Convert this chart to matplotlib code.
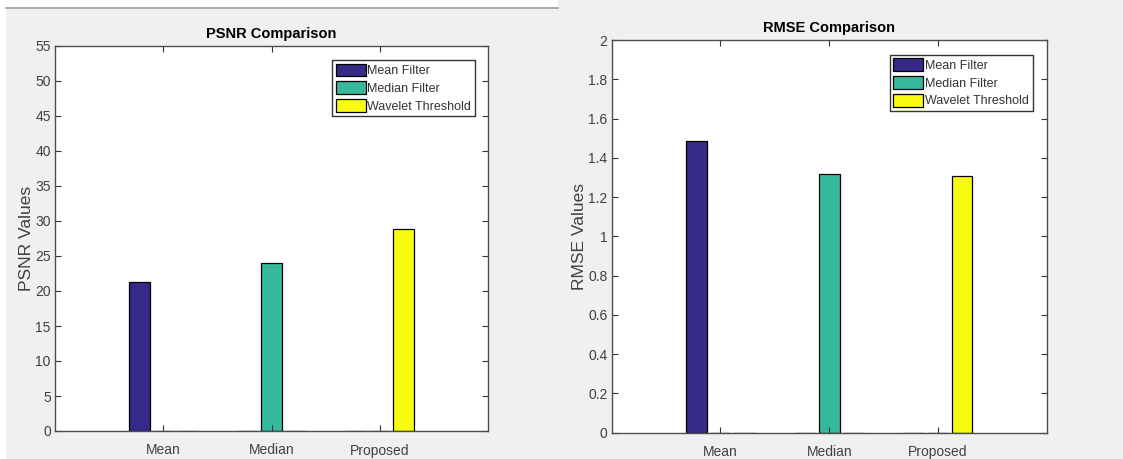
import matplotlib
matplotlib.use("Agg")
import matplotlib.pyplot as plt
import numpy as np
from matplotlib.patches import Rectangle
from matplotlib.lines import Line2D

plt.rcParams['font.family'] = ['Liberation Sans', 'DejaVu Sans']

# data
groups = ['Mean', 'Median', 'Proposed']
methods = ['Mean Filter', 'Median Filter', 'Wavelet Threshold']
colors = ['#352a87', '#36b89d', '#f9fb0e']
psnr_values = [21.25, 24.0, 28.8]
rmse_values = [1.485, 1.316, 1.305]
psnr_ticks = list(range(0, 56, 5))
rmse_ticks = [0, 0.2, 0.4, 0.6, 0.8, 1, 1.2, 1.4, 1.6, 1.8, 2]
rmse_ticklabels = ['0', '0.2', '0.4', '0.6', '0.8', '1', '1.2', '1.4', '1.6', '1.8', '2']

bg = '#f0f0f0'
axcol = '#333333'

fig = plt.figure(figsize=(11.23, 4.59), dpi=100, facecolor=bg)

# screenshot edge at top left
W, H = 1123, 459
fig.patches.append(Rectangle((0, 1 - 7 / H), 558 / W, 7 / H, transform=fig.transFigure,
                             facecolor='white', edgecolor='none', zorder=0))
fig.patches.append(Rectangle((0, 0), 6 / W, 1, transform=fig.transFigure,
                             facecolor='white', edgecolor='none', zorder=0))
fig.lines.append(Line2D([6 / W, 558 / W], [1 - 7.5 / H, 1 - 7.5 / H], transform=fig.transFigure,
                        color='#a0a0a0', lw=1.2))


def draw_panel(rect, values, ylim, yticks, yticklabels, title, ylabel, leg_anchor, title_pad):
    ax = fig.add_axes(rect)
    x = np.arange(1, len(groups) + 1)
    offset = 0.222
    width = 0.19
    # diagonal matrix, like MATLAB bar(diag(values))
    for j, (name, c) in enumerate(zip(methods, colors)):
        heights = [values[i] if i == j else 0 for i in range(len(groups))]
        ax.bar(x + (j - 1) * offset, heights, width, color=c, edgecolor='black',
               linewidth=0.9, label=name)
    ax.set_xlim(0, 4)
    ax.set_ylim(*ylim)
    ax.set_xticks(x)
    ax.set_xticklabels(groups)
    ax.set_yticks(yticks)
    ax.set_yticklabels(yticklabels)
    ax.tick_params(direction='in', length=4, width=0.8, colors=axcol, labelsize=10,
                   top=True, right=True, labelcolor='#404040')
    ax.tick_params(axis='x', pad=9)
    ax.tick_params(axis='y', pad=3)
    for s in ax.spines.values():
        s.set_color('#4d4d4d')
        s.set_linewidth(1.0)
    ax.set_title(title, fontsize=10.5, fontweight='bold', color='black', pad=title_pad)
    ax.set_ylabel(ylabel, fontsize=12.5, color='#404040', labelpad=1)
    leg = ax.legend(loc='upper right', bbox_to_anchor=leg_anchor, fontsize=9,
                    fancybox=False, framealpha=1, edgecolor='#333333',
                    handlelength=2.4, handleheight=1.2, handletextpad=0.15,
                    labelspacing=0.33, borderpad=0.3, borderaxespad=0)
    leg.get_frame().set_linewidth(1.0)
    for t in leg.get_texts():
        t.set_color('#333333')
    return ax


draw_panel([55 / W, 1 - 431 / H, 433 / W, 385 / H], psnr_values, (0, 55), psnr_ticks,
           [str(t) for t in psnr_ticks], 'PSNR Comparison', 'PSNR Values',
           (0.970, 0.964), 6)
draw_panel([611.7 / W, 1 - 432.7 / H, 435 / W, 392.7 / H], rmse_values, (0, 2), rmse_ticks,
           rmse_ticklabels, 'RMSE Comparison', 'RMSE Values',
           (0.9685, 0.963), 6)

fig.savefig('out.png', dpi=100, facecolor=bg)
